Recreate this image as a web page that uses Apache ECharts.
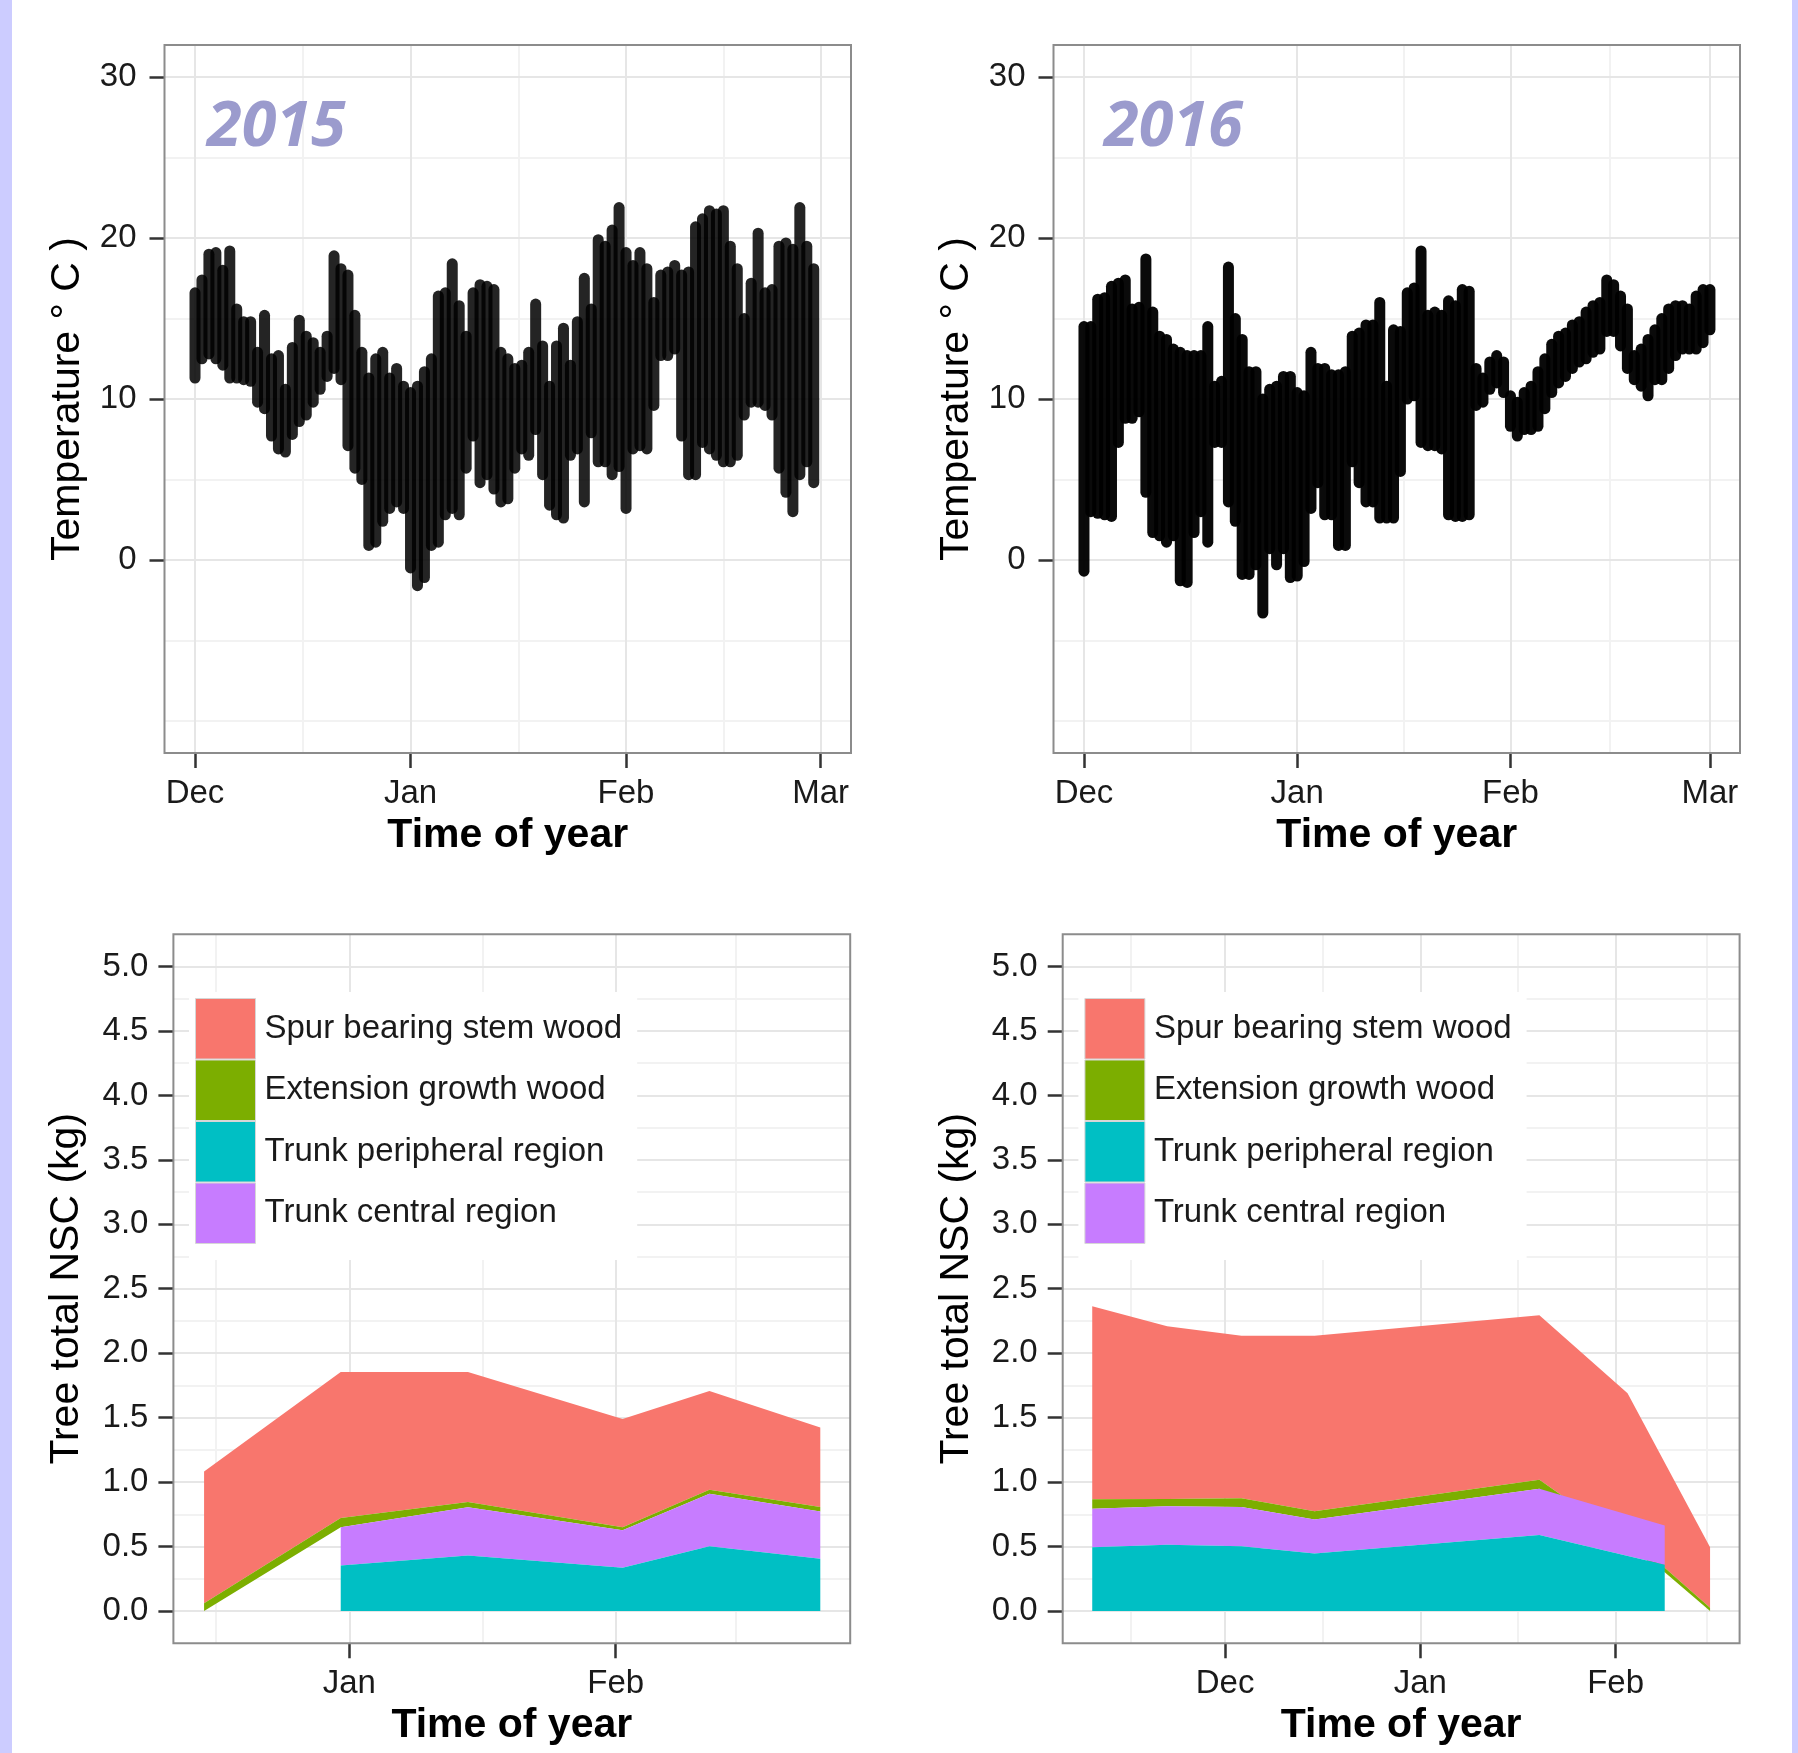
<!DOCTYPE html>
<html>
<head>
<meta charset="utf-8">
<script src="https://cdn.jsdelivr.net/npm/echarts@6/dist/echarts.min.js"></script>
<style>
html,body{margin:0;padding:0;background:#fff;}
#chart{width:1798px;height:1753px;}
</style>
</head>
<body>
<div id="chart"></div>
<script>
// ---------------- data ----------------
// Temperature panels: day offset from 1 Dec, daily low / high of the point cloud (deg C)
const tempDays2015 = [0,1,2,3,4,5,6,7,8,9,10,11,12,13,14,15,16,17,18,19,20,21,22,23,24,25,26,27,28,29,30,31,32,33,34,35,36,37,38,39,40,41,42,43,44,45,46,47,48,49,50,51,52,53,54,55,56,57,58,59,60,61,62,63,64,65,66,67,68,69,70,71,72,73,74,75,76,77,78,79,80,81,82,83,84,85,86,87,88,89];
const tempLow2015 = [11.3,12.5,12.8,12.5,12.1,11.3,11.3,11.2,11.1,9.8, 9.4,7.7,6.9,6.7,7.8,8.6,9.0,9.8,10.6,11.4, 11.9,11.2,7.1,5.7,5.0,0.9,1.1,2.4,3.2,3.6, 3.2,-0.5,-1.6,-1.1,0.9,1.1,2.8,3.2,2.8,5.7, 7.7,4.8,5.3,4.4,3.6,3.8,5.7,6.9,6.5,8.1, 5.3,3.4,2.8,2.6,6.5,6.9,3.6,7.9,6.1,6.1, 5.3,5.8,3.2,6.9,7.1,6.9,9.6,12.7,12.7,13.1, 7.7,5.3,5.3,7.3,6.9,6.5,6.1,6.1,6.5,9.0, 9.8,9.8,9.6,9.0,5.7,4.2,3.0,5.3,6.1,4.8];
const tempHigh2015 = [16.6,17.4,19.0,19.1,18.0,19.2,15.6,14.8,14.8,12.9, 15.2,12.5,12.7,10.6,13.2,14.9,13.9,13.5,12.9,13.9, 18.9,18.1,17.7,15.2,12.9,11.3,12.5,12.9,11.3,11.9, 10.8,10.4,10.8,11.7,12.5,16.4,16.6,18.4,15.8,13.9, 16.6,17.1,17.0,16.8,12.9,12.5,11.9,12.1,12.9,15.9, 13.3,10.8,13.3,14.4,12.1,14.8,17.5,15.6,19.9,19.5, 20.5,21.9,19.1,18.3,19.1,18.1,16.0,17.7,17.9,18.3, 17.7,17.9,20.7,21.2,21.7,21.5,21.7,19.5,18.1,15.0, 17.2,20.3,16.6,16.8,19.5,19.7,19.3,21.9,19.5,18.1];

const tempDays2016 = [0,1,2,3,4,5,6,7,8,9,10,11,12,13,14,15,16,17,18,19,20,21,22,23,24,25,26,27,28,29,30,31,32,33,34,35,36,37,38,39,40,41,42,43,44,45,46,47,48,49,50,51,52,53,54,55,56,57,58,59,60,61,62,63,64,65,66,67,68,69,70,71,72,73,74,75,76,77,78,79,80,81,82,83,84,85,86,87,88,89,90,91];
const tempLow2016 = [-0.7,3.0,2.9,2.8,2.7,7.3,8.8,8.8,9.2,4.2, 1.7,1.5,1.1,1.5,-1.3,-1.4,1.7,3.0,1.1,7.3, 7.3,3.6,2.4,-0.9,-0.9,-0.3,-3.3,0.7,-0.3,0.7, -1.1,-1.0,-0.1,3.2,4.8,2.8,2.8,0.9,0.9,6.1, 4.8,3.6,3.6,2.6,2.6,2.6,5.5,10.0,10.2,7.3, 7.1,7.1,6.9,2.8,2.7,2.7,2.8,9.6,9.8,10.6, 11.0,10.4,8.3,7.7,8.1,8.1,8.3,9.4,10.4,11.0, 11.4,11.9,12.3,12.5,12.9,13.1,14.2,14.2,13.3,11.9, 11.2,10.8,10.2,11.2,11.2,11.9,12.7,13.1,13.1,13.1, 13.5,14.3];
const tempHigh2016 = [14.5,14.5,16.2,16.3,17.0,17.2,17.4,15.6,15.7,18.7, 15.4,13.9,13.7,13.1,12.9,12.7,12.7,12.7,14.5,10.8, 11.1,18.2,15.0,13.7,11.7,11.7,10.0,10.6,10.8,11.4, 11.4,10.4,10.2,12.9,11.9,11.9,11.5,11.5,11.7,13.9, 14.1,14.6,14.6,16.0,10.8,14.3,14.2,16.6,16.9,19.2, 15.2,15.4,15.2,16.1,15.8,16.8,16.7,11.9,11.3,12.3, 12.7,12.3,10.2,9.8,10.4,10.8,11.7,12.5,13.4,13.9, 14.1,14.6,14.8,15.4,15.8,16.0,17.4,17.1,16.4,15.6, 12.7,13.1,13.7,14.3,15.0,15.6,15.8,15.8,15.6,16.4, 16.8,16.8];

// NSC panels: sampling dates and upper / lower edges of each stacked band (kg)
const nscDates2015 = [-16.9, -1.0, 13.8, 31.8, 41.9, 54.8];          // days from 1 Jan
const spurTop2015    = [1.083, 1.854, 1.854, 1.490, 1.707, 1.423];
const extTop2015     = [0.060, 0.722, 0.846, 0.650, 0.941, 0.807];
const extBase2015    = [0.000, 0.650, 0.805, 0.627, 0.910, 0.771];
const centralTop2015 = [null, 0.650, 0.805, 0.627, 0.910, 0.771];
const periphTop2015  = [null, 0.353, 0.431, 0.335, 0.503, 0.405];

const nscDates2016 = [-21.1, -9.2, 2.6, 14.2, 49.9, 63.9, 69.8, 77.0]; // days from 1 Dec
const spurTop2016    = [2.365, 2.210, 2.135, 2.135, 2.295, 1.689, null, 0.495];
const extTop2016     = [0.866, 0.869, 0.874, 0.774, 1.019, null, 0.335, 0.026];
const extBase2016    = [0.794, 0.812, 0.807, 0.709, 0.949, null, 0.300, 0.000];
const centralTop2016 = [0.794, 0.812, 0.807, 0.709, 0.949, null, 0.663, null];
const periphTop2016  = [0.495, 0.513, 0.503, 0.446, 0.590, null, 0.358, null];

// ticks / labels
const tempTicks = [0, 10, 20, 30];
const tempMinor = [-10, -5, 5, 15, 25];
const monthTicks2015 = [0, 31, 62, 90];
const monthTicks2016 = [0, 31, 62, 91];
const monthLabelsTop = ['Dec', 'Jan', 'Feb', 'Mar'];
const monthMinor2015 = [15.5, 46.5, 76];
const monthMinor2016 = [15.5, 46.5, 76.5];
const nscTicks = [0, 0.5, 1, 1.5, 2, 2.5, 3, 3.5, 4, 4.5, 5];
const nscMinor = [0.25, 0.75, 1.25, 1.75, 2.25, 2.75, 3.25, 3.75, 4.25, 4.75];
const nscMonthTicks2015 = [0, 31];
const nscMonthLabels2015 = ['Jan', 'Feb'];
const nscMonthMinor2015 = [-15.5, 15.5, 45];
const nscMonthTicks2016 = [0, 31, 62];
const nscMonthLabels2016 = ['Dec', 'Jan', 'Feb'];
const nscMonthMinor2016 = [-15, 15.5, 46.5, 76.5];

const layerNames = ['Spur bearing stem wood', 'Extension growth wood', 'Trunk peripheral region', 'Trunk central region'];
const layerColors = {'Spur bearing stem wood': '#F8766D', 'Extension growth wood': '#7CAE00', 'Trunk peripheral region': '#00BFC4', 'Trunk central region': '#C77CFF'};

// ---------------- layout ----------------
const FONT = '"Liberation Sans", Arial, Helvetica, sans-serif';
const panels = [
  {left: 164.5, top: 45, width: 686.5, height: 708},
  {left: 1053.5, top: 45, width: 686.5, height: 708},
  {left: 173.4, top: 934.3, width: 676.8, height: 708.9},
  {left: 1062.7, top: 934.3, width: 676.9, height: 708.9}
];
const xRanges = [[-4.39, 94.36], [-4.43, 95.37], [-20.47, 58.28], [-25.79, 81.69]];

function labelFor(ticks, labels) {
  return function (v) {
    for (let i = 0; i < ticks.length; i++) if (Math.abs(ticks[i] - v) < 1e-6) return labels[i];
    return '';
  };
}

function xAxis(i, ticks, labels) {
  return {
    type: 'value', gridIndex: i, min: xRanges[i][0], max: xRanges[i][1], position: 'bottom',
    axisLine: {show: false, onZero: false}, splitLine: {show: false},
    axisTick: {show: true, customValues: ticks, length: 15, lineStyle: {color: '#333', width: 2.5}},
    axisLabel: {show: true, customValues: ticks, margin: 24, fontSize: 33, color: '#1a1a1a', fontFamily: FONT,
      formatter: labelFor(ticks, labels)},
    name: 'Time of year', nameLocation: 'middle', nameGap: 62,
    nameTextStyle: {fontSize: 41, fontWeight: 'bold', color: '#000', fontFamily: FONT}
  };
}

function yAxis(i, min, max, ticks, name, margin, gap, dec) {
  return {
    type: 'value', gridIndex: i, min: min, max: max, position: 'left',
    axisLine: {show: false, onZero: false}, splitLine: {show: false},
    axisTick: {show: true, customValues: ticks, length: 15, lineStyle: {color: '#333', width: 2.5}},
    axisLabel: {show: true, customValues: ticks, margin: margin, fontSize: 33, color: '#1a1a1a', fontFamily: FONT,
      formatter: function (v) {
        for (let k = 0; k < ticks.length; k++) if (Math.abs(ticks[k] - v) < 1e-6) return dec ? v.toFixed(1) : String(v);
        return '';
      }},
    name: name, nameLocation: 'middle', nameRotate: 90, nameGap: gap,
    nameTextStyle: {fontSize: 41, color: '#000', fontFamily: FONT}
  };
}

function gridSeries(i, xMajor, xMinor, yMajor, yMinor) {
  const major = {color: '#e6e6e6', width: 2, type: 'solid'};
  const minor = {color: '#f2f2f2', width: 2, type: 'solid'};
  const d = [];
  yMinor.forEach(v => d.push({yAxis: v, lineStyle: minor}));
  xMinor.forEach(v => d.push({xAxis: v, lineStyle: minor}));
  yMajor.forEach(v => d.push({yAxis: v, lineStyle: major}));
  xMajor.forEach(v => d.push({xAxis: v, lineStyle: major}));
  return {
    type: 'line', xAxisIndex: i, yAxisIndex: i, data: [[xRanges[i][0], 0]], showSymbol: false, symbol: 'none',
    lineStyle: {width: 0, opacity: 0}, silent: true, z: 1, legendHoverLink: false,
    markLine: {silent: true, symbol: ['none', 'none'], label: {show: false}, emphasis: {disabled: true},
      animation: false, z: 1, data: d}
  };
}

function tempSeries(i, days, lows, highs, color) {
  return {
    type: 'custom', xAxisIndex: i, yAxisIndex: i, silent: true, z: 3,
    data: days.map((d, k) => [d, lows[k], highs[k]]),
    encode: {x: 0, y: [1, 2]},
    renderItem: function (params, api) {
      const x = api.value(0);
      const p1 = api.coord([x, api.value(1)]);
      const p2 = api.coord([x, api.value(2)]);
      return {type: 'line', shape: {x1: p1[0], y1: p1[1], x2: p2[0], y2: p2[1]},
        style: {stroke: color, lineWidth: 11, lineCap: 'round'}};
    }
  };
}

function bandSeries(i, name, xs, tops, bottoms) {
  const color = layerColors[name];
  return {
    type: 'custom', name: name, xAxisIndex: i, yAxisIndex: i, silent: true, z: 3,
    itemStyle: {color: color},
    data: [[xs[0], 0]],
    encode: {x: 0, y: 1},
    renderItem: function (params, api) {
      if (params.dataIndex !== 0) return null;
      const pts = [];
      for (let k = 0; k < xs.length; k++) if (tops[k] != null) pts.push(api.coord([xs[k], tops[k]]));
      for (let k = xs.length - 1; k >= 0; k--) if (bottoms[k] != null) pts.push(api.coord([xs[k], bottoms[k]]));
      return {type: 'polygon', shape: {points: pts}, style: {fill: color}};
    }
  };
}

function zerosWhere(arr) { return arr.map(v => (v == null ? null : 0)); }

function legendAt(left) {
  return {
    left: left, top: 992, orient: 'vertical', icon: 'rect', itemWidth: 60, itemHeight: 60.5, itemGap: 0,
    backgroundColor: '#fff', padding: [6, 15, 16, 6], selectedMode: false,
    itemStyle: {borderColor: '#d6d6d6', borderWidth: 1},
    textStyle: {fontSize: 33, color: '#1a1a1a', fontFamily: FONT, padding: [0, 0, 0, 4]},
    data: layerNames
  };
}

const chart = echarts.init(document.getElementById('chart'), null, {renderer: 'canvas'});

const series = [
  gridSeries(0, monthTicks2015, monthMinor2015, tempTicks, tempMinor),
  gridSeries(1, monthTicks2016, monthMinor2016, tempTicks, tempMinor),
  gridSeries(2, nscMonthTicks2015, nscMonthMinor2015, nscTicks, nscMinor),
  gridSeries(3, nscMonthTicks2016, nscMonthMinor2016, nscTicks, nscMinor),
  tempSeries(0, tempDays2015, tempLow2015, tempHigh2015, 'rgba(0,0,0,0.86)'),
  tempSeries(1, tempDays2016, tempLow2016, tempHigh2016, 'rgba(0,0,0,0.96)'),
  bandSeries(2, layerNames[0], nscDates2015, spurTop2015, extTop2015),
  bandSeries(2, layerNames[1], nscDates2015, extTop2015, extBase2015),
  bandSeries(2, layerNames[3], nscDates2015, centralTop2015, periphTop2015),
  bandSeries(2, layerNames[2], nscDates2015, periphTop2015, zerosWhere(periphTop2015)),
  bandSeries(3, layerNames[0], nscDates2016, spurTop2016, extTop2016),
  bandSeries(3, layerNames[1], nscDates2016, extTop2016, extBase2016),
  bandSeries(3, layerNames[3], nscDates2016, centralTop2016, periphTop2016),
  bandSeries(3, layerNames[2], nscDates2016, periphTop2016, zerosWhere(periphTop2016))
];

const yearStyle = {fontSize: 63, fontWeight: 'bold', fontStyle: 'italic', fontFamily: '"Open Sans", "Noto Sans", sans-serif',
  fill: '#9b9bcd', align: 'left', verticalAlign: 'middle', textAlign: 'left', textVerticalAlign: 'middle'};
const graphics = [
  {type: 'rect', shape: {x: 0, y: 0, width: 12, height: 1753}, style: {fill: '#ccccff'}, silent: true, z: 100},
  {type: 'rect', shape: {x: 1792, y: 0, width: 6, height: 1753}, style: {fill: '#ccccff'}, silent: true, z: 100},
  {type: 'text', x: 207, y: 128, silent: true, z: 100, style: Object.assign({text: '2015'}, yearStyle)},
  {type: 'text', x: 1104, y: 128, silent: true, z: 100, style: Object.assign({text: '2016'}, yearStyle)}
];
panels.forEach(p => graphics.push({type: 'rect', silent: true, z: 90,
  shape: {x: p.left, y: p.top, width: p.width, height: p.height},
  style: {fill: 'none', stroke: '#8c8c8c', lineWidth: 2}}));

chart.setOption({
  animation: false,
  backgroundColor: '#fff',
  textStyle: {fontFamily: FONT},
  grid: panels.map(p => ({left: p.left, top: p.top, width: p.width, height: p.height, show: true,
    backgroundColor: '#fff', borderWidth: 0, containLabel: false})),
  xAxis: [
    xAxis(0, monthTicks2015, monthLabelsTop),
    xAxis(1, monthTicks2016, monthLabelsTop),
    xAxis(2, nscMonthTicks2015, nscMonthLabels2015),
    xAxis(3, nscMonthTicks2016, nscMonthLabels2016)
  ],
  yAxis: [
    yAxis(0, -12, 32, tempTicks, 'Temperature \u00B0 C )', 28, 76, false),
    yAxis(1, -12, 32, tempTicks, 'Temperature \u00B0 C )', 28, 76, false),
    yAxis(2, -0.25, 5.25, nscTicks, 'Tree total NSC (kg)', 25, 86, true),
    yAxis(3, -0.25, 5.25, nscTicks, 'Tree total NSC (kg)', 25, 86, true)
  ],
  legend: [legendAt(189), legendAt(1078.4)],
  series: series,
  graphic: {elements: graphics}
});
</script>
</body>
</html>
